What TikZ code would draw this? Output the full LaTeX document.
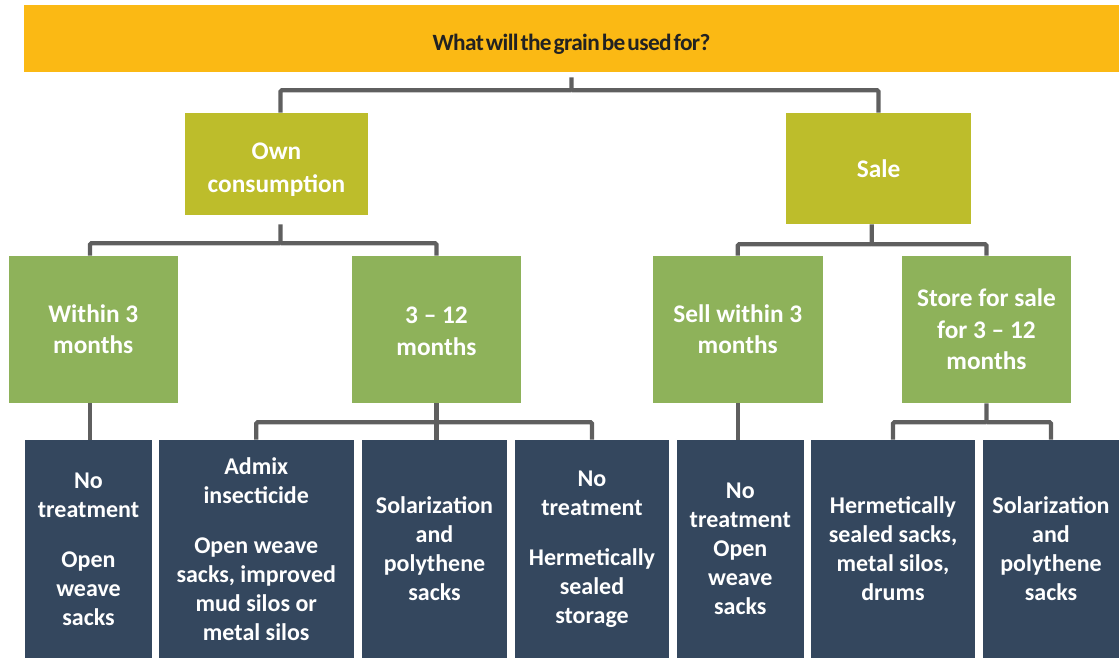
\documentclass[tikz,border=0pt]{standalone}
\usepackage{fontspec}
\setmainfont{Carlito}
\newfontfamily\questionfont[LetterSpace=-2.5,WordSpace=0.4]{Carlito}
\definecolor{barorange}{HTML}{FBB914}
\definecolor{useolive}{HTML}{BDBD2B}
\definecolor{periodgreen}{HTML}{8EB25A}
\definecolor{storenavy}{HTML}{34475E}
\definecolor{linkgray}{HTML}{5F5F5F}
\definecolor{questiontext}{HTML}{222222}
\newcommand\lowered[2]{\raisebox{-#1}[\height][\depth]{\begin{tabular}{@{}c@{}}#2\end{tabular}}}

\begin{document}
\begin{tikzpicture}[x=0.75pt, y=-0.75pt,
    size/.style 2 args={minimum width=#1*0.75pt, minimum height=#2*0.75pt},
    panel/.style={inner sep=0pt, align=center, text=white},
    question/.style={panel, fill=barorange, text=questiontext,
      font=\questionfont\bfseries\fontsize{17.5}{21}\selectfont},
    usebox/.style={panel, fill=useolive, font=\bfseries\fontsize{19}{23.5}\selectfont},
    period/.style={panel, fill=periodgreen, font=\bfseries\fontsize{19}{23.5}\selectfont},
    method/.style={panel, fill=storenavy, font=\bfseries\fontsize{18}{21.75}\selectfont},
    link/.style={draw=linkgray, line width=3.2pt, rounded corners=1pt}
  ]
  \useasboundingbox (0,0) rectangle (1119,658);

  \node[question, size={1095}{67}] (q) at (571.5,38.5) {\lowered{5pt}{What will the grain be used for?}};

  \node[usebox, size={183}{102}] (own) at (276.5,164) {\lowered{4.5pt}{Own\\[1pt]consumption}};
  \node[usebox, size={185}{111}] (sale) at (878.5,168.5) {Sale};

  \node[period, size={168.5}{147}] (within) at (93.25,329.5) {Within 3\\months};
  \node[period, size={169}{147}] (months) at (436.5,329.5) {\lowered{3pt}{3 -- 12\\[0.5pt]months}};
  \node[period, size={169.5}{147}] (sell) at (737.75,329.5) {Sell within 3\\months};
  \node[period, size={169}{147}] (store) at (986.5,329.5) {Store for sale\\for 3 -- 12\\months};

  \node[method, size={127}{218}] (b1) at (88.5,549) {No\\treatment\\[16pt]Open\\weave\\sacks};
  \node[method, size={194.5}{218}] (b2) at (256.25,549) {Admix\\insecticide\\[16pt]Open weave\\sacks, improved\\mud silos or\\metal silos};
  \node[method, size={145}{218}] (b3) at (434.5,549) {Solarization\\and\\polythene\\sacks};
  \node[method, size={154}{218}] (b4) at (592,549) {No\\treatment\\[16pt]Hermetically\\sealed\\storage};
  \node[method, size={126.6}{218}] (b5) at (740.3,549) {No\\treatment\\Open\\weave\\sacks};
  \node[method, size={164}{218}] (b6) at (893,549) {Hermetically\\sealed sacks,\\metal silos,\\drums};
  \node[method, size={136}{218}] (b7) at (1051,549) {Solarization\\and\\polythene\\sacks};

  % question to uses
  \draw[link] (q.south) ++(0,5) -- ++(0,13) -| ([xshift=3pt]own.north);
  \draw[link] (q.south) ++(0,18) -| (sale.north);

  % uses to periods
  \draw[link] ([xshift=3pt]own.south) ++(0,9) -- ++(0,19) -| ([xshift=-2.5pt]within.north);
  \draw[link] ([xshift=3pt]own.south) ++(0,28) -| (months.north);
  \draw[link] ([xshift=-5pt]sale.south) -- ++(0,20) -| (sell.north);
  \draw[link] ([xshift=-5pt]sale.south) ++(0,20) -| (store.north);

  % periods to methods
  \draw[link] ([xshift=-2.5pt]within.south) -- ([xshift=-2.5pt]within.south |- b1.north);
  \draw[link] (months.south) -- (months.south |- b3.north);
  \draw[link] (months.south) ++(0,19) -| (b2.north);
  \draw[link] (months.south) ++(0,19) -| (b4.north);
  \draw[link] (sell.south) -- (sell.south |- b5.north);
  \draw[link] (store.south) -- ++(0,19) -| (b6.north);
  \draw[link] (store.south) ++(0,19) -| (b7.north);
\end{tikzpicture}
\end{document}
